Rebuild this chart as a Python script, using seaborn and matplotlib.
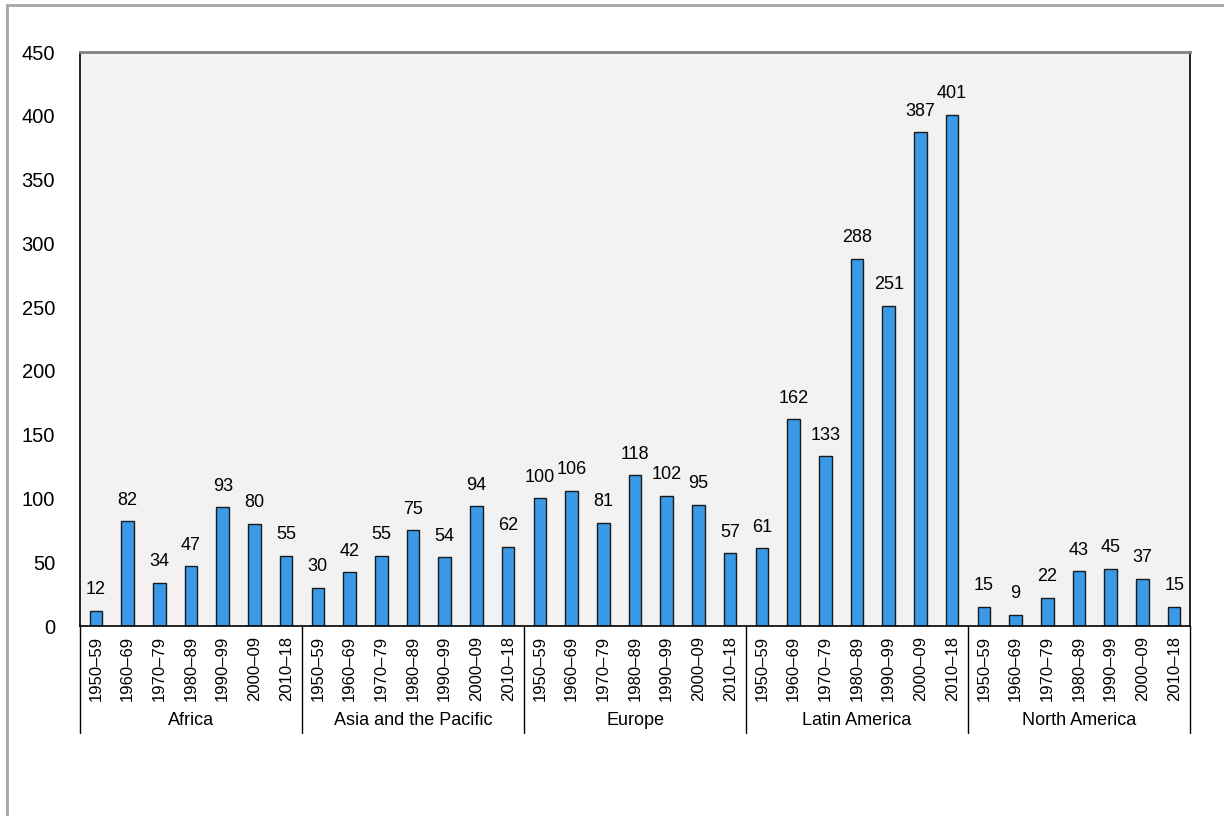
import matplotlib
matplotlib.use("Agg")
import matplotlib.pyplot as plt
import pandas as pd
import seaborn as sns
from matplotlib.patches import Rectangle

regions = ["Africa", "Asia and the Pacific", "Europe", "Latin America", "North America"]
periods = ["1950–59", "1960–69", "1970–79", "1980–89", "1990–99", "2000–09", "2010–18"]
africa = [12, 82, 34, 47, 93, 80, 55]
asia_pacific = [30, 42, 55, 75, 54, 94, 62]
europe = [100, 106, 81, 118, 102, 95, 57]
latin_america = [61, 162, 133, 288, 251, 387, 401]
north_america = [15, 9, 22, 43, 45, 37, 15]

series = [africa, asia_pacific, europe, latin_america, north_america]
rows = []
for region, vals in zip(regions, series):
    for period, v in zip(periods, vals):
        rows.append({"region": region, "period": period, "key": f"{region}|{period}", "value": v})
df = pd.DataFrame(rows)

sns.set_style("white")
plt.rcParams["font.family"] = ["Liberation Sans", "DejaVu Sans"]
plt.rcParams["text.color"] = "black"
plt.rcParams["xtick.color"] = "black"
plt.rcParams["ytick.color"] = "black"

fig = plt.figure(figsize=(12.24, 8.16), dpi=100)
ax = fig.add_axes([80 / 1224, 1 - 626 / 816, 1110 / 1224, 574 / 816])

sns.barplot(data=df, x="key", y="value", color="#3a9ae8", saturation=1,
            width=0.4, edgecolor="#1a1a1a", linewidth=1, ax=ax)
ax.set_facecolor("#f2f2f2")
ax.set_xlim(-0.5, len(df) - 0.5)
ax.set_ylim(0, 450)
ax.set_yticks(range(0, 451, 50))
ax.set_xlabel("")
ax.set_ylabel("")
ax.set_xticks(range(len(df)))
ax.set_xticklabels(df["period"], rotation=90, fontsize=12)
ax.tick_params(axis="x", length=0, pad=7)
ax.tick_params(axis="y", length=0, pad=18, labelsize=14.5)

for side in ["left", "right", "bottom"]:
    ax.spines[side].set_color("black")
    ax.spines[side].set_linewidth(1.2)
ax.spines["top"].set_color("#808080")
ax.spines["top"].set_linewidth(2)

ax.bar_label(ax.containers[0], labels=[str(v) for v in df["value"]], padding=9, fontsize=13)

# group separators and labels under the axis
n = len(periods)
for i in range(len(regions) + 1):
    ax.plot([i * n - 0.5, i * n - 0.5], [0, -0.186], transform=ax.get_xaxis_transform(),
            color="black", linewidth=1, clip_on=False)
for i, region in enumerate(regions):
    ax.text(i * n + (n - 1) / 2, -0.165, region, transform=ax.get_xaxis_transform(),
            ha="center", va="center", fontsize=13)

fig.patches.append(Rectangle((7 / 1224, -0.01), 1.0, 1 - 5 / 816 + 0.01,
                             transform=fig.transFigure, fill=False,
                             edgecolor="#a6a6a6", linewidth=2))

fig.savefig("out.png", dpi=100)
